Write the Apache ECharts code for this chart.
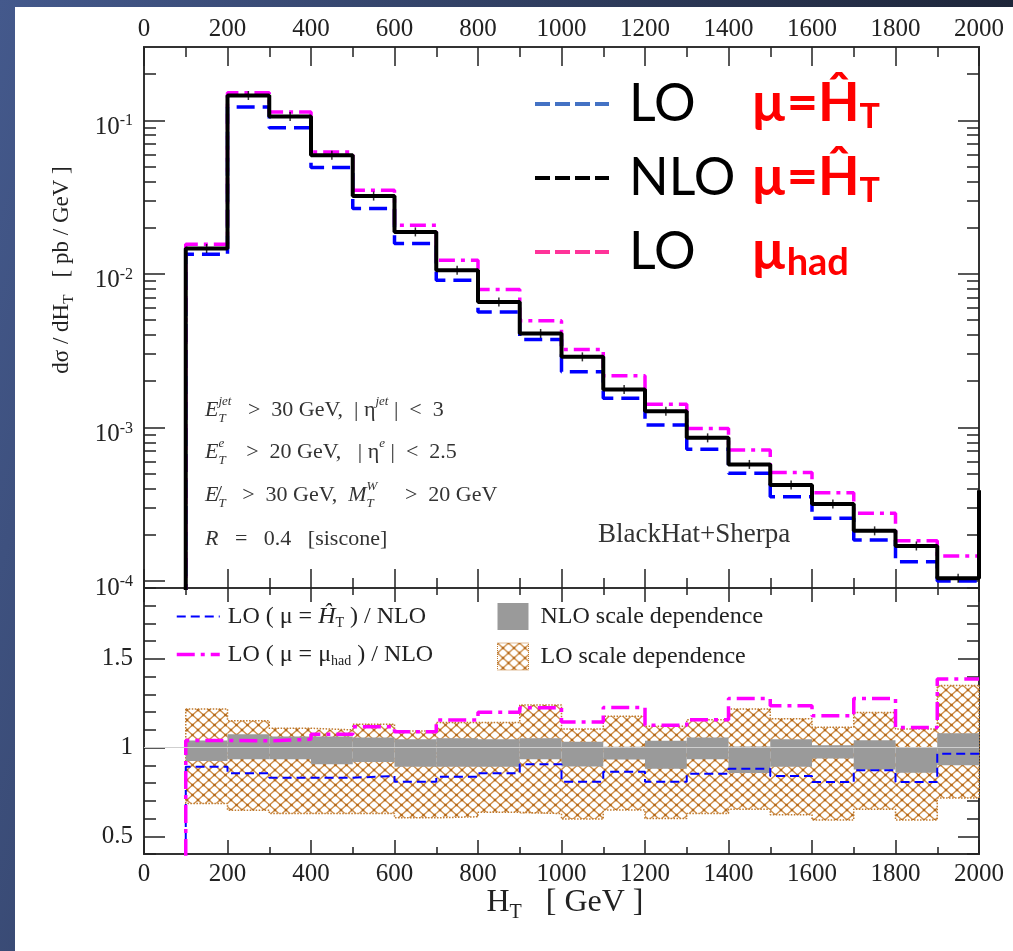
<!DOCTYPE html>
<html>
<head>
<meta charset="utf-8">
<script src="https://cdn.jsdelivr.net/npm/echarts@6.0.0/dist/echarts.min.js"></script>
<style>
html,body{margin:0;padding:0;}
#chart{width:1013px;height:951px;}
</style>
</head>
<body>
<div id="chart"></div>
<script>
// ---------------- data ----------------
const binStart = [100,200,300,400,500,600,700,800,900,1000,1100,1200,1300,1400,1500,1600,1700,1800,1900];
const binEnd = 2000;

// upper panel: d sigma / d H_T  [pb/GeV]
const nloXsec   = [0.01462,0.145,0.106,0.0592,0.0321,0.01875,0.01054,0.00656,0.00409,0.00288,0.001766,0.001276,0.000855,0.000574,0.000422,0.000317,0.000212,0.000169,0.000104];
const loHtXsec  = [0.0134,0.122,0.0895,0.0492,0.0266,0.01574,0.00908,0.00565,0.00374,0.0023,0.001546,0.001035,0.00072,0.000502,0.000354,0.000256,0.000185,0.0001335,0.0001];
const loHadXsec = [0.0156,0.151,0.113,0.0621,0.035,0.0207,0.01225,0.0079,0.00494,0.00322,0.00217,0.001413,0.000985,0.000712,0.000509,0.000375,0.000276,0.000183,0.0001455];
const nloEdgeXsec = 0.00039;   // NLO curve rises at the 2000 GeV edge

// lower panel: ratios to NLO
const ratioLoHt  = [0.892,0.855,0.83,0.83,0.84,0.808,0.836,0.855,0.906,0.808,0.864,0.808,0.853,0.881,0.84,0.806,0.872,0.806,0.966];
const ratioLoHad = [1.04,1.038,1.047,1.075,1.117,1.089,1.155,1.20,1.225,1.145,1.226,1.126,1.157,1.277,1.236,1.179,1.277,1.113,1.387];
const nloBandHigh = [1.04,1.075,1.062,1.062,1.057,1.047,1.053,1.047,1.053,1.033,1.005,1.038,1.057,1.006,1.047,1.013,1.042,1.0,1.081];
const nloBandLow  = [0.925,0.934,0.934,0.906,0.919,0.892,0.892,0.892,0.934,0.893,0.933,0.881,0.934,0.857,0.892,0.938,0.877,0.858,0.90];
const loBandHigh  = [1.217,1.151,1.109,1.10,1.132,1.094,1.142,1.142,1.24,1.105,1.177,1.121,1.157,1.217,1.162,1.115,1.198,1.105,1.35];
const loBandLow   = [0.685,0.647,0.628,0.628,0.628,0.604,0.61,0.635,0.628,0.597,0.648,0.60,0.629,0.652,0.621,0.592,0.653,0.592,0.716];

// ticks
const logMajorTicks = [1e-4,1e-3,1e-2,1e-1];
const logMinorTicks = [2e-4,3e-4,4e-4,5e-4,6e-4,7e-4,8e-4,9e-4,2e-3,3e-3,4e-3,5e-3,6e-3,7e-3,8e-3,9e-3,2e-2,3e-2,4e-2,5e-2,6e-2,7e-2,8e-2,9e-2,2e-1];
const ratioMajorTicks = [0.5,1,1.5];

// series names
const S_LO_HT = 'LO µ=ĤT';
const S_NLO_HT = 'NLO µ=ĤT';
const S_LO_HAD = 'LO µhad';
const S_R_HT = 'LO ( μ = ĤT ) / NLO';
const S_R_HAD = 'LO ( μ = μhad ) / NLO';
const S_NLO_BAND = 'NLO scale dependence';
const S_LO_BAND = 'LO scale dependence';

// ---------------- helpers ----------------
const SERIF = '"Liberation Serif","Times New Roman",serif';
function binEndOf(i) { return i < binStart.length - 1 ? binStart[i + 1] : binEnd; }
function hist(vals, lead) {
  const d = [];
  if (lead !== undefined) d.push([binStart[0], lead]);
  binStart.forEach((x, i) => d.push([x, vals[i]]));
  d.push([binEnd, vals[vals.length - 1]]);
  return d;
}
function bandData(low, high) {
  return binStart.map((x, i) => [x, binEndOf(i), low[i], high[i]]);
}
function hatchCanvas() {
  const w = 11, h = 10;
  const c = document.createElement('canvas');
  c.width = w; c.height = h;
  const g = c.getContext('2d');
  g.fillStyle = '#ffffff'; g.fillRect(0, 0, w, h);
  g.strokeStyle = '#cf8f4a'; g.lineWidth = 1.3;
  g.beginPath(); g.moveTo(0, 0); g.lineTo(w, h); g.moveTo(w, 0); g.lineTo(0, h); g.stroke();
  g.fillStyle = '#b3681a';
  g.fillRect(w / 2 - 1.2, h / 2 - 1.2, 2.4, 2.4);
  g.fillRect(0, 0, 1.2, 1.2); g.fillRect(w - 1.2, 0, 1.2, 1.2); g.fillRect(0, h - 1.2, 1.2, 1.2); g.fillRect(w - 1.2, h - 1.2, 1.2, 1.2);
  return c;
}
const hatch = { image: hatchCanvas(), repeat: 'repeat' };
const HATCH_LINE = '#c07a2e';
const NLO_GREY = '#9a9a9a';

function bandRender(fill) {
  return function (params, api) {
    const p0 = api.coord([api.value(0), api.value(3)]);
    const p1 = api.coord([api.value(1), api.value(2)]);
    return { type: 'rect', shape: { x: p0[0], y: p0[1], width: p1[0] - p0[0], height: p1[1] - p0[1] },
      style: { fill: fill, stroke: null } };
  };
}

const tickLabelStyle = { fontFamily: SERIF, fontSize: 25, color: '#222' };

function xAxisDef(grid, pos, showLabel, majorLen, minorLen) {
  return {
    type: 'value', gridIndex: grid, position: pos, min: 0, max: 2000, interval: 200,
    axisLine: { show: false },
    axisTick: { show: true, inside: true, length: majorLen, lineStyle: { color: '#222', width: 1.5 } },
    minorTick: { show: true, splitNumber: 2, length: minorLen, lineStyle: { color: '#222', width: 1.5 } },
    splitLine: { show: false },
    axisLabel: Object.assign({ show: showLabel, margin: pos === 'top' ? 5 : 8, formatter: v => String(v) }, tickLabelStyle)
  };
}
function logAxisDef(pos, ticks, len, labels) {
  return {
    type: 'log', logBase: 10, gridIndex: 0, position: pos, min: 9e-5, max: 0.3,
    axisLine: { show: false }, splitLine: { show: false },
    axisTick: { show: true, inside: true, length: len, customValues: ticks, lineStyle: { color: '#222', width: 1.5 } },
    axisLabel: labels ? {
      show: true, margin: 11, customValues: logMajorTicks, padding: [14, 0, 0, 0],
      formatter: v => '{b|10}{s|' + Math.round(Math.log10(v)) + '}',
      rich: {
        b: { fontFamily: SERIF, fontSize: 25, color: '#222', lineHeight: 28 },
        s: { fontFamily: SERIF, fontSize: 16, color: '#222', lineHeight: 16, verticalAlign: 'top' }
      }
    } : { show: false }
  };
}
function ratioAxisDef(pos, major, labels) {
  const a = {
    type: 'value', gridIndex: 1, position: pos, min: 0.4, max: 1.9,
    axisLine: { show: false }, splitLine: { show: false },
    axisTick: { show: true, inside: true, length: major ? 21 : 12, lineStyle: { color: '#222', width: 1.5 } },
    axisLabel: labels ? Object.assign({ show: true, margin: 11, customValues: ratioMajorTicks, formatter: v => String(v) }, tickLabelStyle) : { show: false }
  };
  if (major) a.axisTick.customValues = ratioMajorTicks; else a.interval = 0.1;
  return a;
}

const serifRich = {
  i: { fontFamily: SERIF, fontStyle: 'italic', fontSize: 22, color: '#333' },
  sb: { fontFamily: SERIF, fontStyle: 'italic', fontSize: 13, color: '#333', lineHeight: 12, verticalAlign: 'bottom', width: 0 },
  sbw: { fontFamily: SERIF, fontStyle: 'italic', fontSize: 13, color: '#333', lineHeight: 12, verticalAlign: 'bottom' },
  sp: { fontFamily: SERIF, fontStyle: 'italic', fontSize: 13, color: '#333', lineHeight: 12, verticalAlign: 'top' }
};
function annot(x, y, text, size) {
  return { type: 'text', x: x, y: y, z: 10, silent: true,
    style: { text: text, fontFamily: SERIF, fontSize: size || 22, fill: '#333', lineHeight: 30, verticalAlign: 'middle', align: 'left', rich: serifRich } };
}

const topLegendText = {};
topLegendText[S_LO_HT] = '{a|LO}{r|µ=Ĥ}{rs|T}';
topLegendText[S_NLO_HT] = '{a|NLO}{r|µ=Ĥ}{rs|T}';
topLegendText[S_LO_HAD] = '{a|LO}{r|µ}{rh|had}';
const lowLegendText = {};
lowLegendText[S_R_HT] = 'LO ( μ = {i|Ĥ}{sb|T} ) / NLO';
lowLegendText[S_R_HAD] = 'LO ( μ = μ{sb|had} ) / NLO';

const chart = echarts.init(document.getElementById('chart'), null, { renderer: 'canvas' });

const option = {
  animation: false,
  backgroundColor: '#ffffff',
  grid: [
    { left: 144, top: 47, width: 835, height: 541, show: true, borderColor: '#333', borderWidth: 2, backgroundColor: 'transparent' },
    { left: 144, top: 588, width: 835, height: 266, show: true, borderColor: '#333', borderWidth: 2, backgroundColor: 'transparent' }
  ],
  xAxis: [
    xAxisDef(0, 'top', true, 19, 10),
    xAxisDef(0, 'bottom', false, 19, 10),
    xAxisDef(1, 'top', false, 14, 7),
    xAxisDef(1, 'bottom', true, 14, 7)
  ],
  yAxis: [
    logAxisDef('left', logMajorTicks, 21, true),
    logAxisDef('left', logMinorTicks, 12, false),
    logAxisDef('right', logMajorTicks, 21, false),
    logAxisDef('right', logMinorTicks, 12, false),
    ratioAxisDef('left', true, true),
    ratioAxisDef('left', false, false),
    ratioAxisDef('right', true, false),
    ratioAxisDef('right', false, false)
  ],
  legend: [
    {
      orient: 'vertical', left: 528, top: 72, itemWidth: 74, itemHeight: 6, itemGap: 17, selectedMode: false,
      data: [
        { name: S_LO_HT, lineStyle: { color: '#4472c4', width: 4, type: [15, 5] }, itemStyle: { color: 'rgba(0,0,0,0)', borderWidth: 0 } },
        { name: S_NLO_HT, lineStyle: { color: '#000000', width: 4, type: [15, 5] }, itemStyle: { color: 'rgba(0,0,0,0)', borderWidth: 0 } },
        { name: S_LO_HAD, lineStyle: { color: '#ff3399', width: 4, type: [15, 5] }, itemStyle: { color: 'rgba(0,0,0,0)', borderWidth: 0 } }
      ],
      formatter: n => topLegendText[n],
      textStyle: {
        padding: [0, 0, 0, 15],
        rich: {
          a: { fontFamily: 'Lato', fontSize: 52, color: '#000', width: 122, lineHeight: 60 },
          r: { fontFamily: 'Lato', fontWeight: 'bold', fontSize: 54, color: '#ff0000', lineHeight: 60 },
          rs: { fontFamily: 'Lato', fontWeight: 'bold', fontSize: 34, color: '#ff0000', lineHeight: 16, verticalAlign: 'bottom' },
          rh: { fontFamily: 'Lato', fontWeight: 'bold', fontSize: 38, color: '#ff0000', lineHeight: 18, verticalAlign: 'bottom' }
        }
      }
    },
    {
      orient: 'vertical', left: 170, top: 598, itemWidth: 43, itemHeight: 4, itemGap: 11, selectedMode: false,
      data: [
        { name: S_R_HT, lineStyle: { color: '#0000ff', width: 2, type: [9, 5] }, itemStyle: { color: 'rgba(0,0,0,0)', borderWidth: 0 } },
        { name: S_R_HAD, lineStyle: { color: '#ff00ff', width: 3.5, type: [18, 6, 4, 6] }, itemStyle: { color: 'rgba(0,0,0,0)', borderWidth: 0 } }
      ],
      formatter: n => lowLegendText[n],
      textStyle: {
        fontFamily: SERIF, fontSize: 24, color: '#222', lineHeight: 27, padding: [0, 0, 0, 3],
        rich: {
          i: { fontFamily: SERIF, fontStyle: 'italic', fontSize: 24, color: '#222', lineHeight: 27 },
          sb: { fontFamily: SERIF, fontSize: 14, color: '#222', lineHeight: 10, verticalAlign: 'bottom' }
        }
      }
    },
    {
      orient: 'vertical', left: 492, top: 598, itemWidth: 31, itemHeight: 27, itemGap: 12.5, selectedMode: false,
      data: [
        { name: S_NLO_BAND, icon: 'rect', itemStyle: { color: NLO_GREY, borderWidth: 0 } },
        { name: S_LO_BAND, icon: 'rect', itemStyle: { color: hatch, borderColor: HATCH_LINE, borderWidth: 1, borderType: 'dotted' } }
      ],
      textStyle: { fontFamily: SERIF, fontSize: 24, color: '#222', padding: [0, 0, 0, 7] }
    }
  ],
  graphic: {
    elements: [
      { type: 'rect', z: -20, silent: true, shape: { x: 0, y: 0, width: 1013, height: 951 },
        style: { fill: new echarts.graphic.LinearGradient(0, 0, 1, 0.3, [{ offset: 0, color: '#44598c' }, { offset: 1, color: '#1b2233' }]) } },
      { type: 'rect', z: -19, silent: true, shape: { x: 15, y: 7, width: 998, height: 944 }, style: { fill: '#ffffff' } },
      { type: 'text', x: 62, y: 270, rotation: Math.PI / 2, z: 10, silent: true,
        style: { text: 'dσ / dH{sbw|T}   [ pb / GeV ]', fontFamily: SERIF, fontSize: 23, fill: '#222', lineHeight: 30, align: 'center', verticalAlign: 'middle',
          rich: { sbw: { fontFamily: SERIF, fontSize: 15, color: '#222', lineHeight: 12, verticalAlign: 'bottom' } } } },
      { type: 'text', x: 565, y: 903, z: 10, silent: true,
        style: { text: 'H{sbw|T}   [ GeV ]', fontFamily: SERIF, fontSize: 32, fill: '#222', lineHeight: 40, align: 'center', verticalAlign: 'middle',
          rich: { sbw: { fontFamily: SERIF, fontSize: 20, color: '#222', lineHeight: 16, verticalAlign: 'bottom' } } } },
      annot(205, 410, '{i|E}{sb|T}{sp|jet}   >  30 GeV,  | η{sp|jet} |  <  3'),
      annot(205, 452, '{i|E}{sb|T}{sp|e}    >  20 GeV,   | η{sp|e} |  <  2.5'),
      annot(205, 495, '{i|E̸}{sbw|T}   >  30 GeV,  {i|M}{sb|T}{sp|W}     >  20 GeV'),
      annot(205, 539, '{i|R}   =   0.4   [siscone]'),
      annot(598, 535, 'BlackHat+Sherpa', 27)
    ]
  },
  series: [
    // ---- upper panel ----
    { name: S_LO_HT, type: 'line', xAxisIndex: 0, yAxisIndex: 0, step: 'end', symbol: 'none', z: 3,
      data: hist(loHtXsec, 1e-6), lineStyle: { color: '#0000ff', width: 3.5, type: [18, 8] }, itemStyle: { color: '#0000ff' } },
    { name: S_LO_HAD, type: 'line', xAxisIndex: 0, yAxisIndex: 0, step: 'end', symbol: 'none', z: 3,
      data: hist(loHadXsec, 1e-6), lineStyle: { color: '#ff00ff', width: 3.5, type: [16, 6, 4, 6] }, itemStyle: { color: '#ff00ff' } },
    { name: S_NLO_HT, type: 'line', xAxisIndex: 0, yAxisIndex: 0, step: 'end', symbol: 'none', z: 4,
      data: hist(nloXsec, 1e-6).concat([[binEnd, nloEdgeXsec]]), lineStyle: { color: '#000', width: 4 }, itemStyle: { color: '#000' } },
    { name: 'NLO stat', type: 'scatter', xAxisIndex: 0, yAxisIndex: 0, z: 5, silent: true,
      symbol: 'rect', symbolSize: [1.5, 9], itemStyle: { color: '#000' },
      data: binStart.map((x, i) => [x + 50, nloXsec[i]]) },
    // ---- lower panel ----
    { name: S_LO_BAND, type: 'custom', xAxisIndex: 3, yAxisIndex: 4, z: 1, silent: true,
      encode: { x: [0, 1], y: [2, 3] }, itemStyle: { color: HATCH_LINE },
      renderItem: bandRender(hatch), data: bandData(loBandLow, loBandHigh) },
    { name: 'LO band upper edge', type: 'line', xAxisIndex: 3, yAxisIndex: 4, step: 'end', symbol: 'none', z: 1, silent: true,
      data: hist(loBandHigh), lineStyle: { color: HATCH_LINE, width: 1.5, type: 'dotted' } },
    { name: 'LO band lower edge', type: 'line', xAxisIndex: 3, yAxisIndex: 4, step: 'end', symbol: 'none', z: 1, silent: true,
      data: [[binStart[0], loBandHigh[0]]].concat(hist(loBandLow), [[binEnd, loBandHigh[loBandHigh.length - 1]]]),
      lineStyle: { color: HATCH_LINE, width: 1.5, type: 'dotted' } },
    { name: S_NLO_BAND, type: 'custom', xAxisIndex: 3, yAxisIndex: 4, z: 2, silent: true,
      encode: { x: [0, 1], y: [2, 3] }, itemStyle: { color: NLO_GREY },
      renderItem: bandRender(NLO_GREY), data: bandData(nloBandLow, nloBandHigh) },
    { name: S_R_HT, type: 'line', xAxisIndex: 3, yAxisIndex: 4, step: 'end', symbol: 'none', z: 4,
      data: hist(ratioLoHt, 0), lineStyle: { color: '#0000ff', width: 2, type: [9, 5] }, itemStyle: { color: '#0000ff' },
      markLine: { silent: true, symbol: 'none', label: { show: false }, lineStyle: { color: '#cfcfcf', width: 1, type: 'solid' }, data: [{ yAxis: 1 }] } },
    { name: S_R_HAD, type: 'line', xAxisIndex: 3, yAxisIndex: 4, step: 'end', symbol: 'none', z: 4,
      data: hist(ratioLoHad, 0), lineStyle: { color: '#ff00ff', width: 3.5, type: [18, 6, 4, 6] }, itemStyle: { color: '#ff00ff' } }
  ]
};
chart.setOption(option);
</script>
</body>
</html>
